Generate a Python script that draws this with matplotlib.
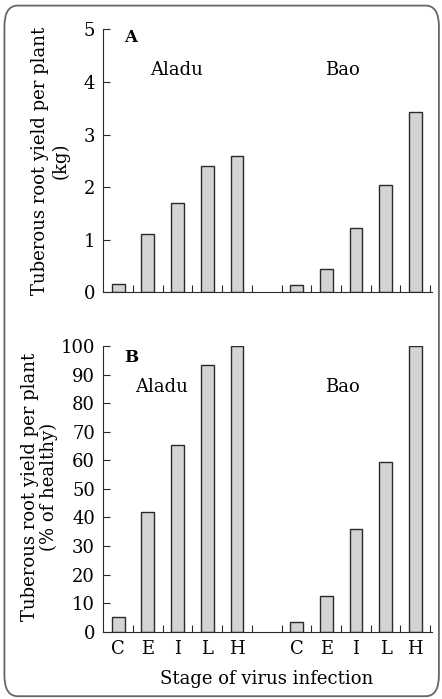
import numpy as np
import matplotlib.pyplot as plt
from matplotlib.patches import FancyBboxPatch

stages = ["C", "E", "I", "L", "H"]
cultivars = ["Aladu", "Bao"]
aladu_kg = [0.15, 1.1, 1.7, 2.4, 2.6]
bao_kg = [0.13, 0.45, 1.23, 2.05, 3.43]
aladu_pct = [5.3, 41.8, 65.3, 93.3, 100]
bao_pct = [3.3, 12.6, 35.8, 59.3, 100]

plt.rcParams["font.family"] = ["DejaVu Serif"]

fig = plt.figure(figsize=(4.42, 6.99), dpi=100)

# slot positions: 5 bars, one empty slot, 5 bars
x_aladu = np.arange(5)
x_bao = np.arange(6, 11)


def panel(ax, a_vals, b_vals, ymax, yticks, letter, lab_y, letter_y, aladu_x):
    ax.bar(x_aladu, a_vals, width=0.43, color="#d4d4d4", edgecolor="#2a2a2a", linewidth=1)
    ax.bar(x_bao, b_vals, width=0.43, color="#d4d4d4", edgecolor="#2a2a2a", linewidth=1)
    ax.set_xlim(-0.5, 10.55)
    ax.set_ylim(0, ymax)
    ax.set_yticks(yticks)
    ax.set_xticks(np.arange(0.5, 11, 1))
    ax.tick_params(axis="x", direction="in", length=5, labelbottom=False, color="#2a2a2a")
    ax.tick_params(axis="y", direction="in", length=5, labelsize=13, pad=6, color="#2a2a2a")
    for s in ["top", "right"]:
        ax.spines[s].set_visible(False)
    for s in ["left", "bottom"]:
        ax.spines[s].set_color("#2a2a2a")
    ax.text(0.2, letter_y, letter, fontsize=12, fontweight="bold", va="center")
    ax.text(aladu_x, lab_y, cultivars[0], fontsize=13, ha="center", va="center")
    ax.text(7.55, lab_y, cultivars[1], fontsize=13, ha="center", va="center")


axA = fig.add_axes([0.2337, 0.5818, 0.743, 0.3762])
panel(axA, aladu_kg, bao_kg, 5, range(0, 6), "A", 4.23, 4.85, 1.95)

axB = fig.add_axes([0.2337, 0.0963, 0.743, 0.4087])
panel(axB, aladu_pct, bao_pct, 100, range(0, 101, 10), "B", 85.8, 96, 1.45)

# y labels
fig.text(50.5 / 442, 1 - 161 / 699, "Tuberous root yield per plant\n(kg)",
         rotation=90, ha="center", va="center", multialignment="center",
         fontsize=13, linespacing=1.15)
fig.text(39.5 / 442, 1 - 487 / 699, "Tuberous root yield per plant\n(% of healthy)",
         rotation=90, ha="center", va="center", multialignment="center",
         fontsize=13, linespacing=1.1)

# stage labels under panel B
for xs in (x_aladu, x_bao):
    for x, s in zip(xs, stages):
        axB.text(x, -3.0, s, fontsize=13, ha="center", va="top")
axB.text(5, -13.5, "Stage of virus infection", fontsize=13, ha="center", va="top")

border = FancyBboxPatch((0.01, 0.004), 0.983, 0.988,
                        boxstyle="round,pad=0,rounding_size=0.03",
                        transform=fig.transFigure, fill=False,
                        edgecolor="#666666", linewidth=1.3)
fig.patches.append(border)

plt.savefig("out.png", dpi=100)
